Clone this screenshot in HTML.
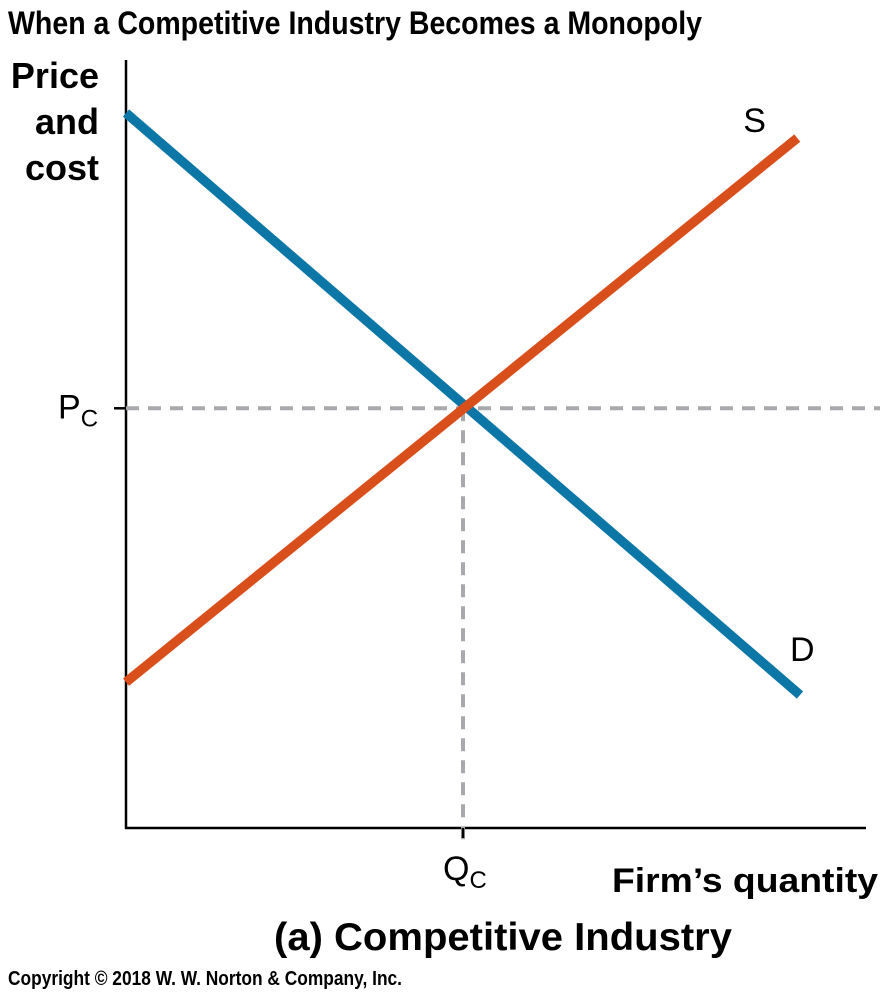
<!DOCTYPE html>
<html><head><meta charset="utf-8"><style>
body{margin:0;background:#fff;width:893px;height:994px;overflow:hidden}
svg{display:block}
</style></head><body>
<svg id="chart" width="893" height="994" viewBox="0 0 893 994">
<text x="8" y="34" font-family="'Liberation Sans Narrow','Liberation Sans',sans-serif" font-weight="bold" font-size="32" textLength="694" lengthAdjust="spacingAndGlyphs">When a Competitive Industry Becomes a Monopoly</text>
<g font-family="'Liberation Sans',sans-serif" font-weight="bold" font-size="36" text-anchor="end">
<text x="99" y="88">Price</text><text x="99" y="134">and</text><text x="99" y="180">cost</text>
</g>
<line x1="126" y1="60" x2="126" y2="829" stroke="#000" stroke-width="2.5"/>
<line x1="125" y1="828" x2="866" y2="828" stroke="#000" stroke-width="2.5"/>
<g id="marks"></g>
<text x="878" y="892" text-anchor="end" font-family="'Liberation Sans',sans-serif" font-weight="bold" font-size="34" textLength="266" lengthAdjust="spacingAndGlyphs">Firm’s quantity</text>
<text x="503" y="950" text-anchor="middle" font-family="'Liberation Sans',sans-serif" font-weight="bold" font-size="39" textLength="458" lengthAdjust="spacingAndGlyphs">(a) Competitive Industry</text>
<text x="8" y="985" font-family="'Liberation Sans Narrow','Liberation Sans',sans-serif" font-weight="bold" font-size="20" textLength="394" lengthAdjust="spacingAndGlyphs">Copyright © 2018 W. W. Norton &amp; Company, Inc.</text>
</svg>
<script>
const demandX=[0,10];
const demandY=[10,1.86];
const supplyX=[0,9.96];
const supplyY=[2.04,9.65];
const eqQ=[5.0];
const eqP=[5.87];
const NS="http://www.w3.org/2000/svg";
function xs(v){return 126+v*67.4;}
function ys(v){return 828-v*71.5;}
const g=document.getElementById('marks');
function mk(t,a){const e=document.createElementNS(NS,t);for(const k in a)e.setAttribute(k,a[k]);g.appendChild(e);return e;}
const px=xs(eqQ[0]),py=ys(eqP[0]);
const dh=mk('line',{x1:126,y1:py,x2:880,y2:py,stroke:'#a7a9ac','stroke-width':4,'stroke-dasharray':'13 9'});


const dv=mk('line',{x1:px,y1:py,x2:px,y2:840,stroke:'#a7a9ac','stroke-width':4,'stroke-dasharray':'13 9'});


mk('line',{x1:114,y1:py,x2:126,y2:py,stroke:'#000','stroke-width':2.5});
mk('line',{x1:px,y1:828,x2:px,y2:838,stroke:'#000','stroke-width':2.5});
const d=mk('polyline',{points:demandX.map((v,i)=>xs(v)+','+ys(demandY[i])).join(' '),fill:'none',stroke:'#0c77a6','stroke-width':9.5});


const s=mk('polyline',{points:supplyX.map((v,i)=>xs(v)+','+ys(supplyY[i])).join(' '),fill:'none',stroke:'#d94f1c','stroke-width':9.5});


function label(txt,sub,x,y,name){const t=mk('text',{x:x,y:y,'font-family':"'Liberation Sans',sans-serif",'font-size':34});
t.textContent=txt;if(sub){const ts=document.createElementNS(NS,'tspan');ts.setAttribute('font-size',24);ts.setAttribute('dy',8);ts.textContent=sub;t.appendChild(ts);}

}
label('P','C',58,py+10,'price-label-pc');
label('Q','C',px-20,880,'quantity-label-qc');
label('S',null,xs(supplyX[1])-54,ys(supplyY[1])-6,'supply-label');
label('D',null,xs(demandX[1])-10,ys(demandY[1])-34,'demand-label');
</script>
</body></html>
